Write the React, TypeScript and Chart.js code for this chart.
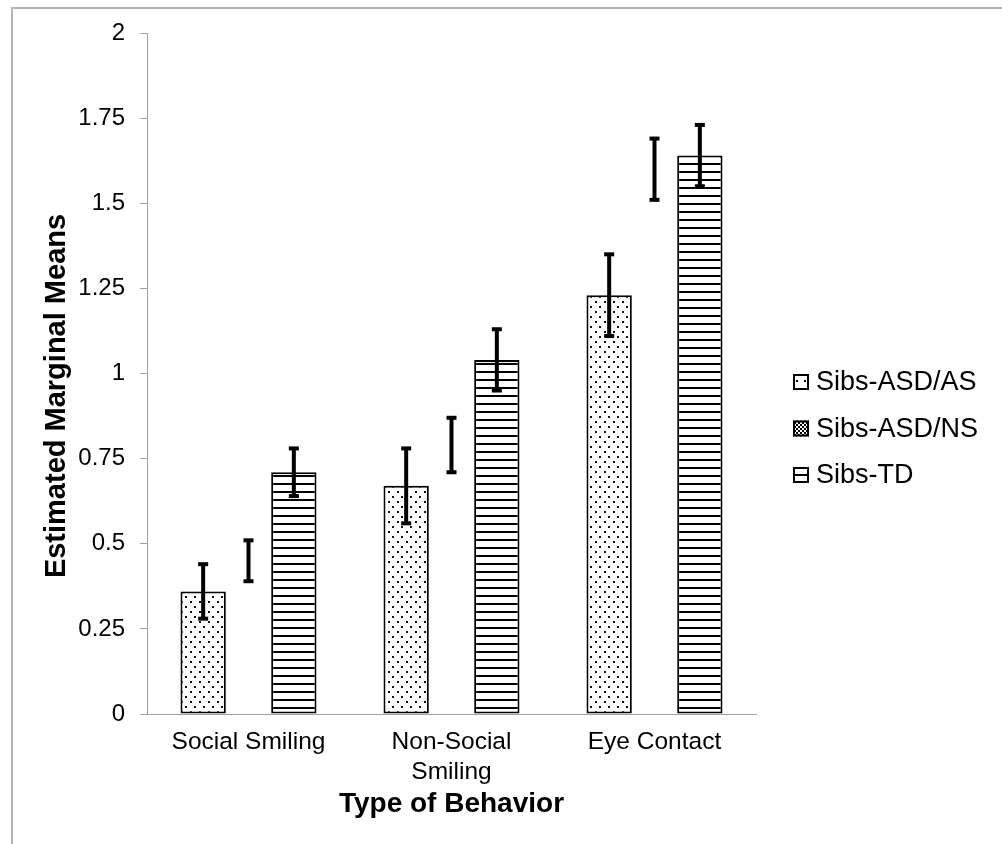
import React, { useEffect, useRef } from 'react';
import { Chart, registerables } from 'chart.js';

Chart.register(...registerables);

const categories = [['Social Smiling'], ['Non-Social', 'Smiling'], ['Eye Contact']];
const seriesNames = ['Sibs-ASD/AS', 'Sibs-ASD/NS', 'Sibs-TD'];
const asdAsMeans = [0.36, 0.67, 1.23];
const asdAsErrors = [0.08, 0.11, 0.12];
const asdNsMeans = [0.45, 0.79, 1.6];
const asdNsErrors = [0.06, 0.08, 0.09];
const tdMeans = [0.71, 1.04, 1.64];
const tdErrors = [0.07, 0.09, 0.09];
const yTickLabels = ['0', '0.25', '0.5', '0.75', '1', '1.25', '1.5', '1.75', '2'];
const xTitle = 'Type of Behavior';
const yTitle = 'Estimated Marginal Means';

const FONT = '"Liberation Sans", Arial, Helvetica, sans-serif';

function makePattern(w: number, h: number, draw: (c: CanvasRenderingContext2D) => void) {
  const cv = document.createElement('canvas');
  cv.width = w;
  cv.height = h;
  const c = cv.getContext('2d')!;
  c.fillStyle = '#fff';
  c.fillRect(0, 0, w, h);
  draw(c);
  const tmp = document.createElement('canvas').getContext('2d')!;
  return tmp.createPattern(cv, 'repeat')!;
}

const errorBarPlugin = {
  id: 'errorBars',
  afterDatasetsDraw(chart: any) {
    const ctx = chart.ctx;
    const yScale = chart.scales.y;
    chart.data.datasets.forEach((ds: any, i: number) => {
      const meta = chart.getDatasetMeta(i);
      const errs: number[] = ds.errors || [];
      meta.data.forEach((bar: any, j: number) => {
        const v = ds.data[j];
        const e = errs[j];
        if (e == null) return;
        const x = bar.x;
        const yTop = yScale.getPixelForValue(v + e);
        const yBot = yScale.getPixelForValue(v - e);
        ctx.save();
        ctx.fillStyle = '#000';
        ctx.fillRect(x - 2, yTop, 4, yBot - yTop);
        ctx.fillRect(x - 5, yTop - 2, 10, 4);
        ctx.fillRect(x - 5, yBot - 2, 10, 4);
        ctx.restore();
      });
    });
  },
};

const yTitlePlugin = {
  id: 'yTitleText',
  afterDraw(chart: any) {
    const ctx = chart.ctx;
    ctx.save();
    ctx.translate(57, 396);
    ctx.rotate(-Math.PI / 2);
    ctx.font = `bold 29px ${FONT}`;
    ctx.fillStyle = '#000';
    ctx.textAlign = 'center';
    ctx.textBaseline = 'middle';
    ctx.fillText(yTitle, 0, 0);
    ctx.restore();
  },
};

const legendPlugin = {
  id: 'patternLegend',
  afterDraw(chart: any) {
    const ctx = chart.ctx;
    const x0 = 793;
    const y0 = 382;
    const step = 46.5;
    const box = 16;
    chart.data.datasets.forEach((ds: any, i: number) => {
      const cy = y0 + i * step;
      const bx = x0;
      const by = cy - box / 2;
      ctx.save();
      ctx.fillStyle = ds.legendFill || '#fff';
      ctx.fillRect(bx, by, box, box);
      if (ds.legendLine) {
        ctx.fillStyle = '#000';
        ctx.fillRect(bx, cy - 1, box, 2);
      }
      ctx.strokeStyle = '#000';
      ctx.lineWidth = 2;
      ctx.strokeRect(bx + 1, by + 1, box - 2, box - 2);
      ctx.fillStyle = '#000';
      ctx.font = `27px ${FONT}`;
      ctx.textAlign = 'left';
      ctx.textBaseline = 'middle';
      ctx.fillText(ds.label, 816, cy + 1);
      ctx.restore();
    });
  },
};

export default function App() {
  const ref = useRef<HTMLCanvasElement>(null);

  useEffect(() => {
    const canvas = ref.current!;
    const dots = makePattern(9, 10, (c) => {
      c.fillStyle = '#111';
      c.fillRect(1, 1, 2, 2);
      c.fillRect(5, 6, 2, 2);
    });
    const lines = makePattern(8, 8, (c) => {
      c.fillStyle = '#000';
      c.fillRect(0, 3, 8, 2);
    });
    const checker = makePattern(4, 4, (c) => {
      c.fillStyle = '#000';
      c.fillRect(0, 0, 2, 2);
      c.fillRect(2, 2, 2, 2);
    });
    const legendDots = makePattern(8, 8, (c) => {
      c.fillStyle = '#000';
      c.fillRect(4, 4, 2, 2);
      c.fillRect(8, 8, 2, 2);
    });

    const chart = new Chart(canvas, {
      type: 'bar',
      data: {
        labels: categories as any,
        datasets: [
          {
            label: seriesNames[0],
            data: asdAsMeans,
            errors: asdAsErrors,
            backgroundColor: dots,
            borderColor: '#000',
            borderWidth: 2,
            borderSkipped: false,
            legendFill: legendDots,
          } as any,
          {
            label: seriesNames[1],
            data: asdNsMeans,
            errors: asdNsErrors,
            backgroundColor: 'rgba(0,0,0,0)',
            borderWidth: 0,
            legendFill: checker,
          } as any,
          {
            label: seriesNames[2],
            data: tdMeans,
            errors: tdErrors,
            backgroundColor: lines,
            borderColor: '#000',
            borderWidth: 2,
            borderSkipped: false,
            legendFill: '#fff',
            legendLine: true,
          } as any,
        ],
      },
      options: {
        responsive: false,
        animation: false,
        devicePixelRatio: 1,
        layout: { padding: { left: 11, right: 246, top: 33, bottom: 23 } },
        datasets: { bar: { categoryPercentage: 0.67, barPercentage: 1 } },
        plugins: {
          legend: { display: false },
          tooltip: { enabled: false },
        },
        scales: {
          x: {
            grid: { display: false },
            border: { display: true, color: '#a0a0a0', width: 1 },
            ticks: {
              color: '#000',
              font: { family: FONT, size: 24.5 },
              padding: 6,
              maxRotation: 0,
              autoSkip: false,
            },
            title: {
              display: true,
              text: xTitle,
              color: '#000',
              font: { family: FONT, size: 28, weight: 'bold' },
              padding: 0,
            },
            afterFit: (s: any) => {
              s.height = 107;
            },
          },
          y: {
            min: 0,
            max: 2,
            ticks: {
              stepSize: 0.25,
              color: '#000',
              font: { family: FONT, size: 24 },
              padding: 15,
              callback: (_v: any, i: number) => yTickLabels[i],
            },
            grid: {
              display: true,
              drawOnChartArea: false,
              drawTicks: true,
              tickLength: 7,
              color: '#a0a0a0',
            },
            border: { display: true, color: '#a0a0a0', width: 1 },
            afterFit: (s: any) => {
              s.width = 136;
            },
          },
        },
      } as any,
      plugins: [errorBarPlugin, yTitlePlugin, legendPlugin],
    });
    return () => chart.destroy();
  }, []);

  return (
    <div
      style={{
        position: 'fixed',
        left: 0,
        top: 0,
        width: 1002,
        height: 844,
        overflow: 'hidden',
        background: '#fff',
      }}
    >
      <div
        style={{
          position: 'absolute',
          left: 11,
          top: 7,
          width: 1100,
          height: 1000,
          borderLeft: '2px solid #b4b4b4',
          borderTop: '2px solid #b4b4b4',
        }}
      />
      <canvas
        ref={ref}
        width={1002}
        height={844}
        style={{ position: 'absolute', left: 0, top: 0 }}
      />
    </div>
  );
}
